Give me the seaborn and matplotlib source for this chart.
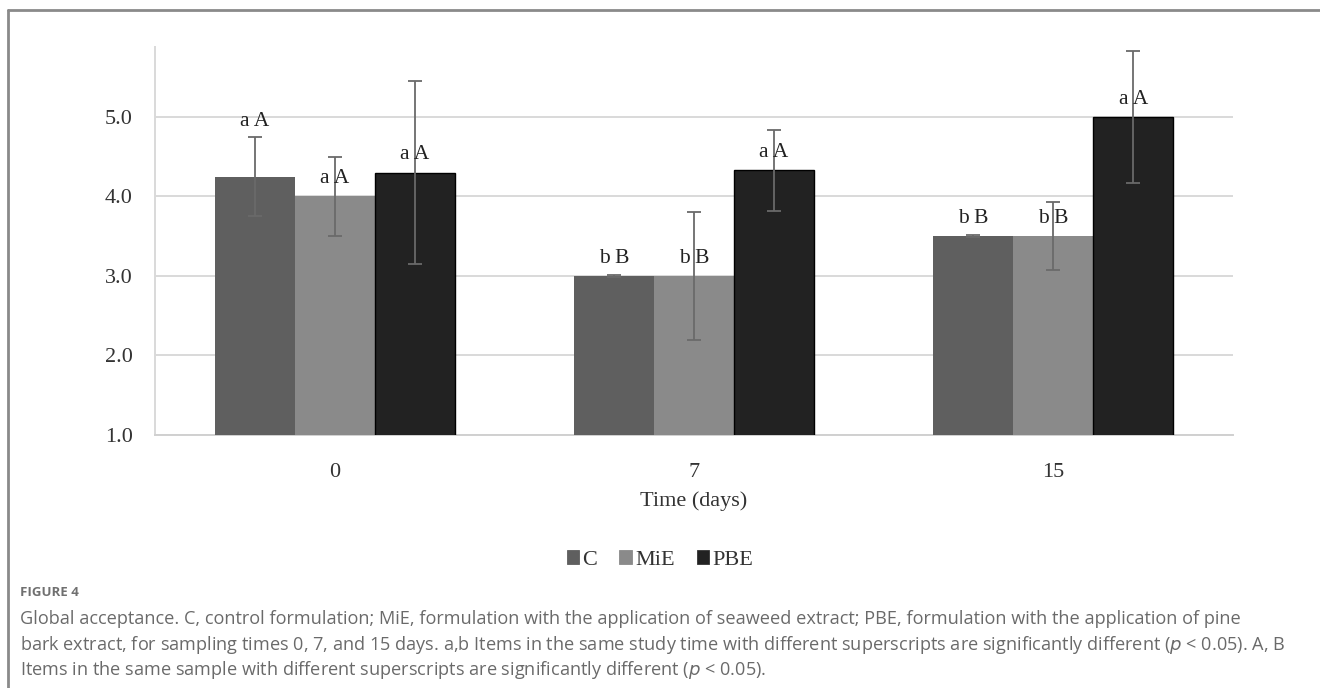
import pandas as pd
import numpy as np
import matplotlib
matplotlib.use("Agg")
import matplotlib.pyplot as plt
import seaborn as sns
from matplotlib.patches import Patch
from matplotlib.lines import Line2D

# chart data
days = ["0", "7", "15"]
samples = ["C", "MiE", "PBE"]
means_c = [4.25, 3.00, 3.50]
means_mie = [4.00, 3.00, 3.50]
means_pbe = [4.30, 4.33, 5.00]
err_c = [0.50, 0.01, 0.01]
err_mie = [0.50, 0.80, 0.43]
err_pbe = [1.15, 0.51, 0.83]
letters_c = ["a A", "b B", "b B"]
letters_mie = ["a A", "b B", "b B"]
letters_pbe = ["a A", "a A", "a A"]
# labels that sit above the error bar instead of the bar top
above_err = {("C", "0")}

colors = {"C": "#5f5f5f", "MiE": "#8a8a8a", "PBE": "#222222"}

rows = []
for s, m, e, l in [("C", means_c, err_c, letters_c),
                   ("MiE", means_mie, err_mie, letters_mie),
                   ("PBE", means_pbe, err_pbe, letters_pbe)]:
    for d, mv, ev, lv in zip(days, m, e, l):
        rows.append({"day": d, "sample": s, "value": mv, "err": ev, "label": lv})
df = pd.DataFrame(rows)

sns.set_style("white")
serif = ["Liberation Serif", "DejaVu Serif"]
plt.rcParams["font.family"] = serif

fig = plt.figure(figsize=(13.2, 6.88), dpi=100)
ax = fig.add_axes([155 / 1320, 1 - 435 / 688, (1233 - 155) / 1320, (435 - 47) / 688])

sns.barplot(data=df, x="day", y="value", hue="sample", order=days,
            hue_order=samples, palette=colors, width=0.667, errorbar=None,
            saturation=1, ax=ax, legend=False, zorder=3)

# error bars and letter labels, placed on the seaborn bars
for s, patches in zip(samples, ax.containers):
    sub = df[df["sample"] == s].set_index("day").loc[days]
    for bar, (d, r) in zip(patches, sub.iterrows()):
        bar.set_linewidth(0)
        if s == "PBE":
            bar.set_edgecolor("black")
            bar.set_linewidth(1)
        xc = bar.get_x() + bar.get_width() / 2
        ax.errorbar(xc, r["value"], yerr=r["err"], fmt="none", ecolor="#6a6a6a",
                    elinewidth=1.3, capsize=5, capthick=1.3, zorder=4)
        if (s, d) in above_err:
            anchor, off = r["value"] + r["err"], 4
        else:
            anchor, off = r["value"], 6
        ax.annotate(r["label"], (xc, anchor), xytext=(0, off),
                    textcoords="offset points", ha="center", va="bottom",
                    fontsize=15.5, color="#222222", zorder=5)

ax.set_ylim(1, 5.88)
ax.set_yticks([1, 2, 3, 4, 5])
ax.set_yticklabels(["1.0", "2.0", "3.0", "4.0", "5.0"])
ax.set_xlim(-0.5, 2.5)
ax.set_xticks([0, 1, 2])
ax.set_xticklabels(days)
ax.set_xticks([-0.5, 0.5, 1.5, 2.5], minor=True)
ax.tick_params(axis="x", which="major", length=0, pad=20, labelsize=16, labelcolor="#333333")
ax.tick_params(axis="x", which="minor", length=7, color="#d0d0d0", width=1.2)
ax.tick_params(axis="y", length=0, pad=16, labelsize=16, labelcolor="#333333")
ax.yaxis.grid(True, color="#d9d9d9", linewidth=1.4, zorder=0)
ax.set_axisbelow(True)
for side in ["top", "right"]:
    ax.spines[side].set_visible(False)
ax.spines["left"].set_color("#d9d9d9")
ax.spines["left"].set_linewidth(1.4)
ax.spines["bottom"].set_color("#d0d0d0")
ax.spines["bottom"].set_linewidth(1.4)
ax.set_xlabel("Time (days)", fontsize=16, color="#333333", labelpad=7)
ax.set_ylabel("")

handles = [Patch(facecolor=colors[s], edgecolor="#333333" if s == "PBE" else colors[s],
                 linewidth=0.6) for s in samples]
fig.legend(handles, samples, loc="center", bbox_to_anchor=(0.5, 1 - 560 / 688),
           ncol=3, frameon=False, fontsize=16, handlelength=0.55, handleheight=0.55,
           handletextpad=0.15, columnspacing=1.0, labelcolor="#333333")

# outer frame (left and top edges only)
fig.add_artist(Line2D([8 / 1320, 8 / 1320], [0, 1 - 10 / 688], color="#8a8a8a",
                      linewidth=2, transform=fig.transFigure))
fig.add_artist(Line2D([8 / 1320, 1], [1 - 10 / 688, 1 - 10 / 688], color="#8a8a8a",
                      linewidth=2, transform=fig.transFigure))

cap = ["Open Sans", "DejaVu Sans"]
fig.text(20 / 1320, 1 - 592 / 688, "FIGURE 4", fontsize=9.5, fontweight="bold",
         color="#707070", family=cap, va="center")
lines = [
    "Global acceptance. C, control formulation; MiE, formulation with the application of seaweed extract; PBE, formulation with the application of pine",
    "bark extract, for sampling times 0, 7, and 15 days. a,b Items in the same study time with different superscripts are significantly different ($p$ < 0.05). A, B",
    "Items in the same sample with different superscripts are significantly different ($p$ < 0.05).",
]
for i, t in enumerate(lines):
    fig.text(20 / 1320, 1 - (619 + 25.5 * i) / 688, t, fontsize=13.1, color="#6a6a6a",
             family=cap, va="center")

fig.savefig("out.png", dpi=100)
